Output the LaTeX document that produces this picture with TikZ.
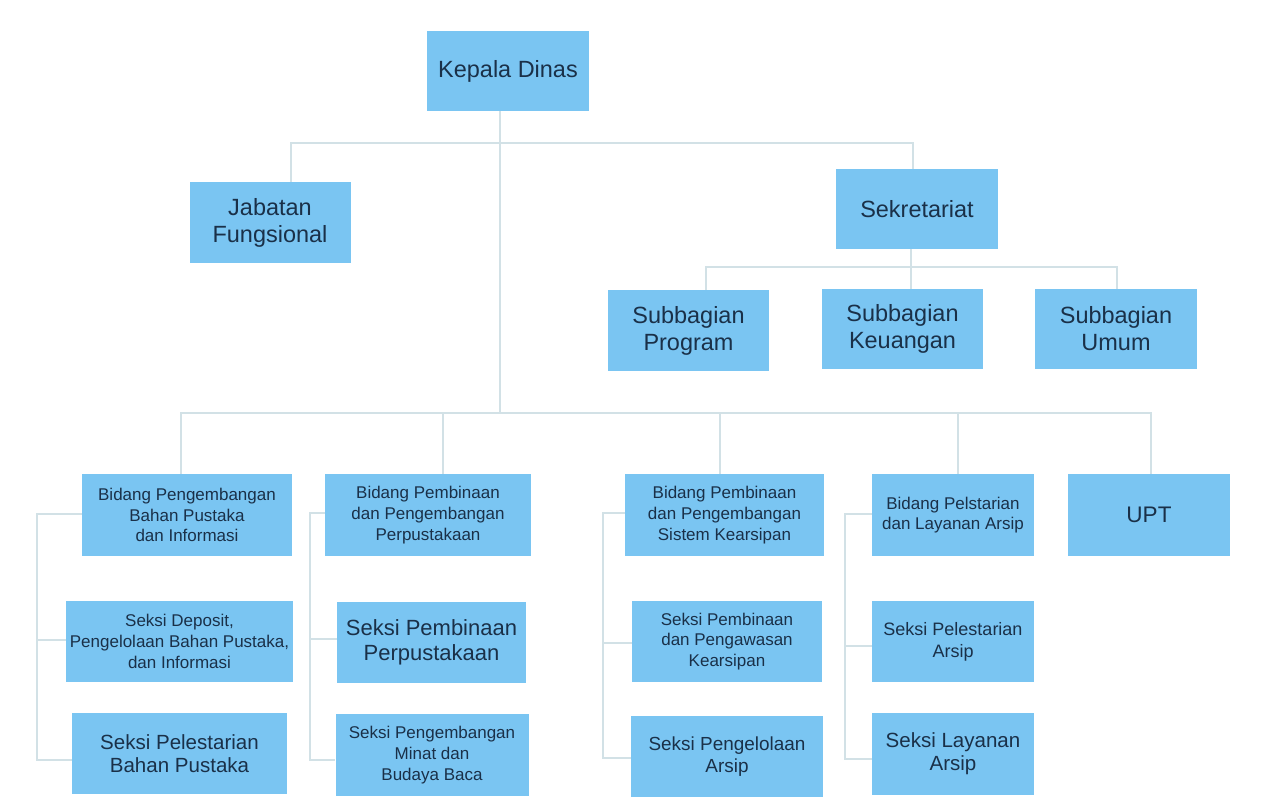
\documentclass[tikz,border=0pt]{standalone}
\usepackage{fontspec}
\setmainfont{Liberation Sans}
\definecolor{boxblue}{HTML}{7AC5F2}
\definecolor{ink}{HTML}{1A3048}
\definecolor{linecol}{HTML}{D2E1E6}
\begin{document}
\begin{tikzpicture}[x=0.75pt,y=-0.75pt,
  box/.style={fill=boxblue, text=ink, align=center, inner sep=0pt},
  fbig/.style={font=\fontsize{17.6}{20.25}\selectfont},
  fupt/.style={font=\fontsize{16.9}{20}\selectfont},
  fspp/.style={font=\fontsize{16.5}{18.75}\selectfont},
  fmid/.style={font=\fontsize{15.4}{17.5}\selectfont},
  fpa/.style={font=\fontsize{14.2}{16.3}\selectfont},
  fpe/.style={font=\fontsize{13.5}{16.5}\selectfont},
  fsm/.style={font=\fontsize{12.75}{15.6}\selectfont},
  link/.style={draw=linecol, line width=1.5pt}]
\useasboundingbox[fill=white] (0,0) rectangle (1275,810);

% top level
\node[box,fbig,minimum width=121.5pt,minimum height=60pt] (kd) at (508,71) {Kepala Dinas};
\node[box,fbig,minimum width=120.75pt,minimum height=60.75pt] (jf) at (270,222.5) {Jabatan\\Fungsional};
\node[box,fbig,minimum width=121.5pt,minimum height=60pt] (sek) at (917,209) {Sekretariat};

% subbagian
\node[box,fbig,minimum width=120.75pt,minimum height=60.75pt] (sp) at (688.5,330.5) {Subbagian\\Program};
\node[box,fbig,minimum width=120.75pt,minimum height=60pt] (sk) at (902.5,329) {Subbagian\\Keuangan};
\node[box,fbig,minimum width=121.5pt,minimum height=60pt] (su) at (1116,329) {Subbagian\\Umum};

% bidang row
\node[box,fsm,minimum width=157.5pt,minimum height=61.5pt] (b1) at (187,515) {Bidang Pengembangan\\Bahan Pustaka\\dan Informasi};
\node[box,fsm,minimum width=154.5pt,minimum height=61.5pt] (b2) at (428,515) {Bidang Pembinaan\\dan Pengembangan\\Perpustakaan};
\node[box,fsm,minimum width=149.25pt,minimum height=61.5pt] (b3) at (724.5,515) {Bidang Pembinaan\\dan Pengembangan\\Sistem Kearsipan};
\node[box,fsm,minimum width=121pt,minimum height=61.5pt] (b4) at (953,515) {Bidang Pelstarian\\dan Layanan Arsip};
\node[box,fupt,minimum width=121.5pt,minimum height=61.5pt] (upt) at (1149,515) {UPT};

% seksi row 2
\node[box,fsm,minimum width=170.25pt,minimum height=60.75pt] (s11) at (179.5,641.5) {Seksi Deposit,\\Pengelolaan Bahan Pustaka,\\dan Informasi};
\node[box,fspp,minimum width=141.75pt,minimum height=60.75pt] (s21) at (431.5,642.5) {Seksi Pembinaan\\Perpustakaan};
\node[box,fsm,minimum width=142.5pt,minimum height=60.75pt] (s31) at (727,641.5) {Seksi Pembinaan\\dan Pengawasan\\Kearsipan};
\node[box,fpe,minimum width=121pt,minimum height=60.75pt] (s41) at (953,641.5) {Seksi Pelestarian\\Arsip};

% seksi row 3
\node[box,fmid,minimum width=161.25pt,minimum height=60.75pt] (s12) at (179.5,753.5) {Seksi Pelestarian\\Bahan Pustaka};
\node[box,fsm,minimum width=144.75pt,minimum height=61.5pt] (s22) at (432,755) {Seksi Pengembangan\\Minat dan\\Budaya Baca};
\node[box,fpa,minimum width=144pt,minimum height=60.75pt] (s32) at (727,756.5) {Seksi Pengelolaan\\Arsip};
\node[box,fmid,minimum width=121pt,minimum height=61.5pt] (s42) at (953,754) {Seksi Layanan\\Arsip};

% connectors: top
\coordinate (h1l) at (291,143);
\coordinate (h1r) at (913,143);
\coordinate (v0) at (500,413);
\draw[link] (kd.south -| v0) -- (v0);
\draw[link] (h1l |- jf.north) -- (h1l) -- (h1r) -- (h1r |- sek.north);

% sekretariat
\coordinate (h2l) at (706,267);
\coordinate (h2m) at (911,267);
\coordinate (h2r) at (1117,267);
\draw[link] (sek.south -| h2m) -- (h2m |- sk.north);
\draw[link] (h2l |- sp.north) -- (h2l) -- (h2r) -- (h2r |- su.north);

% bidang bus
\coordinate (h3l) at (181,413);
\coordinate (h3r) at (1151,413);
\coordinate (d2) at (443,413);
\coordinate (d3) at (720,413);
\coordinate (d4) at (958,413);
\draw[link] (h3l |- b1.north) -- (h3l) -- (h3r) -- (h3r |- upt.north);
\draw[link] (d2) -- (d2 |- b2.north);
\draw[link] (d3) -- (d3 |- b3.north);
\draw[link] (d4) -- (d4 |- b4.north);

% brackets
\coordinate (g1t) at (37,514); \coordinate (g1m) at (37,640); \coordinate (g1b) at (37,760);
\draw[link] (b1.west |- g1t) -- (g1t) -- (g1b) -- (s12.west |- g1b);
\draw[link] (g1m) -- (s11.west |- g1m);
\coordinate (g2t) at (310,513); \coordinate (g2m) at (310,639); \coordinate (g2b) at (310,760);
\draw[link] (b2.west |- g2t) -- (g2t) -- (g2b) -- (s22.west |- g2b);
\draw[link] (g2m) -- (s21.west |- g2m);
\coordinate (g3t) at (603,513); \coordinate (g3m) at (603,643); \coordinate (g3b) at (603,758);
\draw[link] (b3.west |- g3t) -- (g3t) -- (g3b) -- (s32.west |- g3b);
\draw[link] (g3m) -- (s31.west |- g3m);
\coordinate (g4t) at (845,514); \coordinate (g4m) at (845,646); \coordinate (g4b) at (845,759);
\draw[link] (b4.west |- g4t) -- (g4t) -- (g4b) -- (s42.west |- g4b);
\draw[link] (g4m) -- (s41.west |- g4m);
\end{tikzpicture}
\end{document}
